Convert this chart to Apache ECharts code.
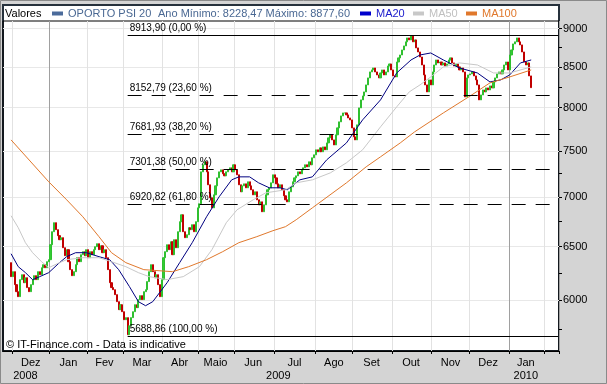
<!DOCTYPE html>
<html><head><meta charset="utf-8">
<script src="https://cdn.jsdelivr.net/npm/echarts@6/dist/echarts.min.js"></script>
<style>html,body{margin:0;padding:0;background:#d4d4d4;}#c{width:607px;height:384px;}</style>
</head><body><div id="c"></div><script>
const FONT = '"Liberation Sans", Arial, sans-serif';
const seriesName = 'OPORTO PSI 20';
const yearRange = 'Ano Mínimo: 8228,47 Máximo: 8877,60';
const copyright = '© IT-Finance.com - Data is indicative';

// trading calendar (categories)
const firstDay = '2008-11-24';
const lastDay = '2010-02-10';
const holidays = ['2008-12-25','2008-12-26','2009-01-01','2009-04-10','2009-04-13','2009-05-01','2009-12-25','2010-01-01'];
const monthNames = ['Jan','Fev','Mar','Abr','Maio','Jun','Jul','Ago','Set','Out','Nov','Dez'];

// daily closes, from category index 4 (2008-11-28) to 2010-01-20
const firstDataIndex = 4;
const firstOpen = 6347;
const closes = [
  6216,6262,6142,6078,6033,6188,6234,6160,6206,6115,6078,6142,6188,6225,6188,6262,6234,6299,6328,6299,6356,6375,
  6519,6647,6737,6667,6608,6568,6588,6490,6413,6471,6356,6281,6225,6262,6328,6394,6356,6423,6452,6413,6471,
  6394,6452,6423,6471,6500,6529,6471,6509,6442,6471,6394,6281,6160,6115,6096,6051,5988,5917,5961,5899,
  5829,5847,5700,5777,5847,5899,5961,5935,6006,6042,6006,6078,6096,6170,6262,6328,6262,6206,6234,6142,6033,6188,
  6394,6452,6519,6471,6548,6423,6568,6490,6647,6747,6817,6647,6588,6617,6687,6667,6717,6647,6747,6888,
  6930,7268,7345,7378,7268,7129,6992,6888,7023,7118,7203,7268,7290,7247,7225,7268,7290,7312,7268,7345,
  7290,7236,7129,7055,7118,7139,7097,7161,7118,7076,7023,7055,6971,6919,6950,6848,6919,7023,7076,7097,7150,7236,
  7203,7139,7097,7129,7076,7013,6971,6950,7055,7107,7161,7203,7225,7268,7247,7290,7312,7345,7323,7378,7345,7422,7455,
  7511,7489,7533,7489,7544,7511,7589,7646,7681,7623,7566,7681,7761,7831,7901,7936,7936,7913,7877,7854,7761,
  7658,7623,7796,7996,8092,8140,8189,8275,8362,8437,8462,8487,8437,8399,8362,8424,8462,8399,8437,8512,8538,8462,
  8387,8374,8563,8615,8653,8718,8771,8824,8876,8850,8900,8824,8850,8745,8692,8627,8525,8399,8275,8189,8337,8275,
  8437,8525,8589,8551,8563,8525,8551,8512,8538,8589,8615,8551,8512,8538,8500,8462,8487,8437,8128,8362,8399,
  8412,8437,8387,8337,8275,8092,8152,8213,8189,8238,8213,8263,8238,8312,8362,8412,8437,8412,8462,8525,8563,8462,
  8653,8718,8797,8824,8876,8824,8784,8692,8563,8525,8551,8387,8241.21
];

// moving averages, read at sampled category indices
const ma20Idx = [4,8,12,16,20,25,31,35,40,46,53,59,64,70,75,79,83,91,98,105,113,120,127,131,137,142,148,154,158,165,172,180,191,200,210,219,227,232,238,245,254,264,271,277,282,288,294];
const ma20 = [6432,6309,6253,6188,6216,6253,6347,6404,6442,6442,6404,6375,6281,6124,5988,5952,5988,6160,6347,6539,6797,7002,7182,7214,7214,7150,7097,7097,7076,7182,7214,7400,7589,7854,8092,8424,8589,8653,8679,8589,8487,8424,8312,8337,8399,8551,8589];
const ma50Idx = [4,8,12,16,21,25,31,35,44,53,60,68,75,81,91,100,109,116,124,130,139,146,157,163,172,182,191,200,210,219,226,232,238,245,254,264,273,282,294];
const ma50 = [6807,6687,6539,6442,6356,6299,6347,6375,6394,6394,6356,6309,6253,6216,6188,6216,6309,6471,6737,6868,6971,7044,7076,7150,7182,7257,7367,7511,7773,8008,8189,8275,8374,8500,8551,8525,8424,8424,8500];
const ma100Idx = [4,25,35,44,53,60,68,78,94,103,113,122,131,141,150,157,163,172,191,202,210,221,229,245,260,271,282,294];
const ma100 = [7623,7161,6971,6797,6598,6442,6347,6281,6262,6309,6375,6452,6539,6598,6657,6697,6767,6888,7150,7323,7433,7589,7715,7936,8140,8300,8374,8462];

// axis
const yMin = 5563, yMax = 9103;
const yLabels = [6000,6500,7000,7500,8000,8500,9000];
const yMinorTicks = [5750,6250,6750,7250,7750,8250,8750];

// fibonacci levels
const fibValues = [8913.90, 8152.79, 7681.93, 7301.38, 6920.82, 5688.86];
const fibPercents = ['0,00','23,60','38,20','50,00','61,80','100,00'];
const fibStartIndex = 69;
const lastPrice = 8241.21;

// ---- build ----
const hol = new Set(holidays);
const categories = [];
for (let d = new Date(firstDay + 'T00:00:00Z'); d <= new Date(lastDay + 'T00:00:00Z'); d.setUTCDate(d.getUTCDate() + 1)) {
  const wd = d.getUTCDay();
  const s = d.toISOString().slice(0, 10);
  if (wd === 0 || wd === 6 || hol.has(s)) continue;
  categories.push(s);
}
const monthStarts = [];
for (let i = 1; i < categories.length; i++) if (categories[i].slice(5, 7) !== categories[i - 1].slice(5, 7)) monthStarts.push(i);
const monthStartSet = new Set(monthStarts);
const yearStartSet = new Set(monthStarts.filter(i => categories[i].slice(5, 7) === '01'));
const monthLabelSet = new Set();
for (let k = 0; k + 1 < monthStarts.length; k++) monthLabelSet.add(Math.floor((monthStarts[k] + monthStarts[k + 1] - 1) / 2));
const lastMonthStart = monthStarts[monthStarts.length - 1];
const yearLabelSet = new Set();
{
  let s = 0;
  for (let i = 1; i <= lastMonthStart; i++) {
    if (i === lastMonthStart || categories[i].slice(0, 4) !== categories[i - 1].slice(0, 4)) {
      yearLabelSet.add(Math.floor((s + i - 1) / 2)); s = i;
    }
  }
}

const candles = categories.map(() => ['-', '-', '-', '-']);
closes.forEach((c, k) => {
  const o = k === 0 ? firstOpen : closes[k - 1];
  candles[firstDataIndex + k] = [o, c, Math.min(o, c), Math.max(o, c)];
});
const fmt = v => v.toFixed(2).replace('.', ',');
const lastIdx = categories.length - 1;
const markData = fibValues.map((v, k) => {
  const solid = k === 0 || k === fibValues.length - 1;
  return [
    {coord: [categories[fibStartIndex], v],
     lineStyle: {type: solid ? 'solid' : [14, 10], color: '#000', width: 1},
     label: {show: true, position: 'insideStartTop', formatter: fmt(v) + ' (' + fibPercents[k] + ' %)', color: '#000', fontSize: 10, fontFamily: FONT, distance: 2}},
    {coord: [categories[lastIdx], v]}
  ];
});
markData.push({
  yAxis: lastPrice,
  lineStyle: {opacity: 0},
  label: {show: true, position: 'end', formatter: fmt(lastPrice), color: '#000', fontSize: 11, fontFamily: FONT,
    backgroundColor: '#f5c400', borderColor: '#333', borderWidth: 1, padding: [2, 1, 1, 2], distance: 1}
});
const pairs = (idx, vals) => idx.map((x, k) => [x, vals[k]]);

const legendBase = {top: 8, padding: 0, icon: 'rect', itemWidth: 11, itemHeight: 4, selectedMode: false,
  textStyle: {fontSize: 11, fontFamily: FONT}};

const option = {
  animation: false,
  backgroundColor: '#d4d4d4',
  textStyle: {fontFamily: FONT},
  graphic: [
    {type: 'rect', z: -10, silent: true, shape: {x: 0.5, y: 0.5, width: 606, height: 383}, style: {fill: '#d4d4d4', stroke: '#8a8a8a', lineWidth: 1}},
    {type: 'rect', z: -9, silent: true, shape: {x: 3, y: 5, width: 556, height: 346}, style: {fill: '#ffffff', stroke: '#26313c', lineWidth: 2}}
  ],
  title: [
    {text: 'Valores', left: 5, top: 8, padding: 0, textStyle: {fontSize: 11, fontWeight: 'normal', color: '#000', fontFamily: FONT}},
    {text: yearRange, left: 158, top: 8, padding: 0, textStyle: {fontSize: 11, fontWeight: 'normal', color: '#4a6893', fontFamily: FONT}},
    {text: copyright, left: 6, top: 339, padding: 0, textStyle: {fontSize: 11, fontWeight: 'normal', color: '#000', fontFamily: FONT}}
  ],
  legend: [
    Object.assign({}, legendBase, {left: 52, itemStyle: {color: '#4b6b9b', borderWidth: 0},
      data: [{name: seriesName, icon: 'rect', itemStyle: {color: '#4b6b9b', borderColor: '#4b6b9b', borderWidth: 0}, textStyle: {color: '#4a6893'}}]}),
    Object.assign({}, legendBase, {left: 360, data: [{name: 'MA20', icon: 'rect', textStyle: {color: '#1a1acc'}}]}),
    Object.assign({}, legendBase, {left: 413, data: [{name: 'MA50', icon: 'rect', textStyle: {color: '#c0c0c0'}}]}),
    Object.assign({}, legendBase, {left: 466, data: [{name: 'MA100', icon: 'rect', textStyle: {color: '#e0782c'}}]})
  ],
  grid: {left: 3, right: 48, top: 21, bottom: 33, show: true, borderColor: '#000', borderWidth: 1, backgroundColor: 'transparent'},
  xAxis: [
    {type: 'category', data: categories, boundaryGap: true, position: 'bottom',
      axisLine: {show: true, lineStyle: {color: '#000'}},
      axisTick: {show: true, length: 3, interval: (i) => monthStartSet.has(i), lineStyle: {color: '#000'}},
      axisLabel: {interval: (i) => monthLabelSet.has(i), formatter: (v) => monthNames[+v.slice(5, 7) - 1], color: '#000', fontSize: 11, margin: 6, fontFamily: FONT},
      splitLine: {show: true, interval: (i) => monthStartSet.has(i) && !yearStartSet.has(i), lineStyle: {color: '#e2e2e2'}}},
    {type: 'category', data: categories, boundaryGap: true, position: 'bottom', offset: 13,
      axisLine: {show: false}, axisTick: {show: false},
      axisLabel: {interval: (i) => yearLabelSet.has(i), formatter: (v) => v.slice(0, 4), color: '#000', fontSize: 11, margin: 6, fontFamily: FONT},
      splitLine: {show: true, interval: (i) => yearStartSet.has(i), lineStyle: {color: '#a0a0a0'}}}
  ],
  yAxis: [
    {type: 'log', logBase: 10, min: yMin, max: yMax, position: 'right',
      axisLine: {show: false},
      axisTick: {show: true, customValues: yLabels, length: 3, lineStyle: {color: '#000'}},
      axisLabel: {customValues: yLabels, formatter: (v) => String(Math.round(v)), color: '#000', fontSize: 11, margin: 4, fontFamily: FONT},
      splitLine: {show: true, lineStyle: {color: '#e8e8e8'}}},
    {type: 'log', logBase: 10, min: yMin, max: yMax, position: 'right',
      axisLine: {show: false},
      axisTick: {show: true, customValues: yMinorTicks, length: 3, lineStyle: {color: '#000'}},
      axisLabel: {show: false}, splitLine: {show: false}}
  ],
  series: [
    {name: seriesName, type: 'candlestick', xAxisIndex: 0, yAxisIndex: 0, data: candles, barWidth: 1.6,
      itemStyle: {color: '#33cc33', color0: '#cc0000', borderColor: '#2fbf2f', borderColor0: '#c00000', borderWidth: 1},
      markLine: {silent: true, symbol: ['none', 'none'], animation: false, data: markData}},
    {name: 'MA20', type: 'line', data: pairs(ma20Idx, ma20), symbol: 'none', color: '#0000cc', lineStyle: {width: 1, color: '#000080'}, z: 3},
    {name: 'MA50', type: 'line', data: pairs(ma50Idx, ma50), symbol: 'none', color: '#c8c8c8', lineStyle: {width: 1, color: '#c8c8c8'}, z: 3},
    {name: 'MA100', type: 'line', data: pairs(ma100Idx, ma100), symbol: 'none', color: '#e0782c', lineStyle: {width: 1, color: '#e0782c'}, z: 3}
  ]
};
const chart = echarts.init(document.getElementById('c'), null, {renderer: 'canvas'});
chart.setOption(option);
</script></body></html>
